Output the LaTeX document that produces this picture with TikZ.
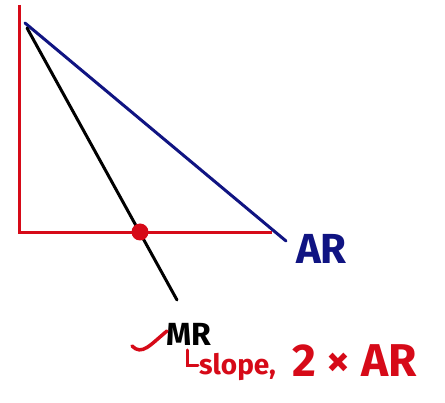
\documentclass[tikz,border=0pt]{standalone}
\usepackage{fontspec}
\setmainfont{Fira Sans}
\definecolor{axred}{RGB}{214,10,24}
\definecolor{arblue}{RGB}{16,20,130}
\begin{document}
\begin{tikzpicture}[x=1pt,y=-1pt,
  axis/.style={axred,line width=3pt},
  curve/.style={line width=3pt,line cap=round},
  lab/.style={inner sep=0pt,font=\bfseries}]
\useasboundingbox (0,0) rectangle (445,403);
\coordinate (ytop) at (19,5);
\coordinate (org) at (19,233);
\coordinate (xend) at (272,233);
\draw[axis] (ytop) -- (org) -- (xend);
\coordinate (arS) at (25,23);
\coordinate (arE) at (286,241);
\coordinate (mrS) at (27,28);
\coordinate (mrE) at (177,300);
\draw[curve,arblue] (arS) -- (arE);
\draw[curve,black] (mrS) -- (mrE);
\fill[axred] (140,232) circle (8.5);
\node[lab,arblue,font=\bfseries\fontsize{42}{42}\selectfont,anchor=west] (ar) at (296,249) {AR};
\node[lab,black,font=\bfseries\fontsize{32}{32}\selectfont,anchor=west] (mr) at (166,334) {MR};
\draw[axred,line width=3.5pt,line cap=round] (132,346) .. controls (142,356) and (150,345) .. (167,331);
\draw[axred,line width=3pt,line cap=round] (187,350) -- (187,366) -- (198,366);
\node[lab,axred,font=\bfseries\fontsize{28}{28}\selectfont,anchor=west] (slope) at (199,367) {slope,};
\node[lab,axred,font=\bfseries\fontsize{46}{46}\selectfont,anchor=west] (prod) at (292,361) {2 × AR};
\end{tikzpicture}
\end{document}
